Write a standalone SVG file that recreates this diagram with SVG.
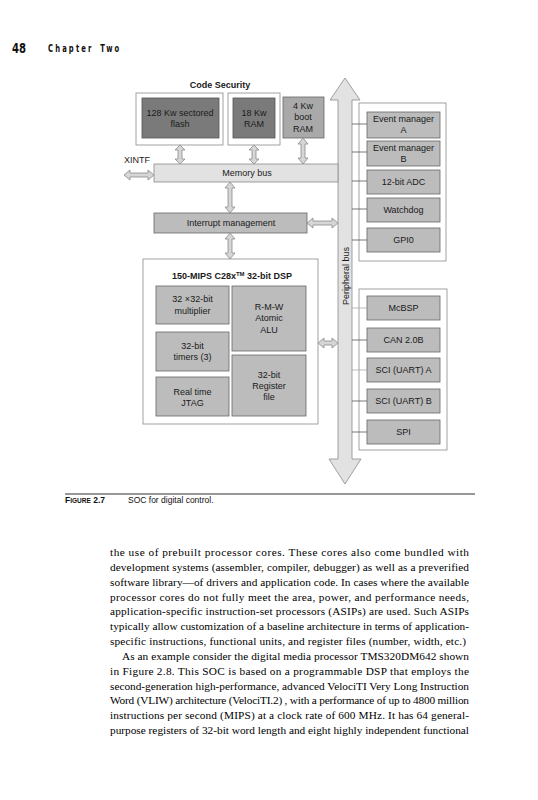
<svg xmlns="http://www.w3.org/2000/svg" width="538" height="800" viewBox="0 0 538 800">
<defs>
<style>
.t{font-family:"Liberation Sans",Arial,sans-serif;font-size:9px;fill:#1a1a1a;text-anchor:middle}
.b{font-weight:bold}
.dark{fill:#7a7a7a;stroke:#555;stroke-width:0.8}
.mid{fill:#a9a9a9;stroke:#666;stroke-width:0.8}
.box{fill:#bcbcbc;stroke:#666;stroke-width:0.8}
.frame{fill:#fff;stroke:#8a8a8a;stroke-width:0.8}
.bus{fill:#e2e2e2;stroke:#8a8a8a;stroke-width:0.8}
.arr{fill:#d6d6d6;stroke:#8a8a8a;stroke-width:0.8;stroke-linejoin:miter}
.ln{stroke:#555;stroke-width:0.8;fill:none}
.lnl{stroke:#aaa;stroke-width:0.8;fill:none}
.body{font-family:"Liberation Serif","Times New Roman",serif;font-size:11.3px;fill:#000}
</style>
</defs>
<rect width="538" height="800" fill="#fff"/>

<!-- page header -->
<g id="header">
<text x="12" y="53" font-family="DejaVu Sans Condensed,'Liberation Sans',sans-serif" font-weight="bold" font-size="14" textLength="14" lengthAdjust="spacingAndGlyphs" fill="#111">48</text>
<text transform="translate(48,52) scale(0.72,1)" x="0" y="0" font-family="DejaVu Sans Condensed,'Liberation Sans',sans-serif" font-weight="bold" font-size="10.5" letter-spacing="3" word-spacing="3" fill="#111">Chapter Two</text>
</g>

<!-- peripheral bus (big arrow) -->
<g id="peripheral-bus">
<polygon class="bus" points="345,78 360,100 352,100 352,459 361,459 345,484 329,459 338,459 338,100 330,100"/>
<text class="t" transform="translate(348.5,276) rotate(-90)" font-size="8.5">Peripheral bus</text>
</g>

<!-- memory bus -->
<g id="memory-bus">
<rect class="bus" x="154" y="164" width="184" height="18"/>
<text class="t" x="247" y="176">Memory bus</text>
</g>

<g id="code-security-label">
<text class="t b" x="220" y="88">Code Security</text>
</g>

<g id="flash">
<rect class="frame" x="136" y="93" width="87" height="52"/>
<rect class="dark" x="142" y="98" width="77" height="40"/>
<text class="t" x="180" y="116">128 Kw sectored</text>
<text class="t" x="180" y="127">flash</text>
</g>

<g id="ram18">
<rect class="frame" x="228" y="93" width="52" height="52"/>
<rect class="dark" x="233" y="98" width="42" height="40"/>
<text class="t" x="254" y="116">18 Kw</text>
<text class="t" x="254" y="127">RAM</text>
</g>

<g id="bootram">
<rect class="mid" x="283" y="97" width="41" height="41"/>
<text class="t" x="303" y="109">4 Kw</text>
<text class="t" x="303" y="120">boot</text>
<text class="t" x="303" y="132">RAM</text>
</g>

<g id="xintf">
<text class="t" x="124" y="163" style="text-anchor:start">XINTF</text>
</g>

<g id="interrupt">
<rect class="box" x="154" y="213" width="153" height="20"/>
<text class="t" x="231" y="226">Interrupt management</text>
</g>

<g id="dsp">
<rect class="frame" x="143" y="259" width="175" height="165"/>
<text class="t b" x="232" y="279">150-MIPS C28x<tspan font-size="6" dy="-3">TM</tspan><tspan dy="3"> 32-bit DSP</tspan></text>
</g>
<g id="multiplier">
<rect class="box" x="156" y="286" width="73" height="38"/>
<text class="t" x="192.5" y="302">32 ×32-bit</text>
<text class="t" x="192.5" y="314">multiplier</text>
</g>
<g id="timers">
<rect class="box" x="156" y="332" width="73" height="39"/>
<text class="t" x="192.5" y="349">32-bit</text>
<text class="t" x="192.5" y="360">timers (3)</text>
</g>
<g id="jtag">
<rect class="box" x="156" y="377" width="73" height="39"/>
<text class="t" x="192.5" y="395">Real time</text>
<text class="t" x="192.5" y="406">JTAG</text>
</g>
<g id="alu">
<rect class="box" x="232" y="286" width="74" height="65"/>
<text class="t" x="269" y="310">R-M-W</text>
<text class="t" x="269" y="321">Atomic</text>
<text class="t" x="269" y="333">ALU</text>
</g>
<g id="regfile">
<rect class="box" x="232" y="355" width="74" height="61"/>
<text class="t" x="269" y="378">32-bit</text>
<text class="t" x="269" y="389">Register</text>
<text class="t" x="269" y="400">file</text>
</g>

<!-- upper peripheral group -->
<g id="periph-upper">
<rect class="frame" x="359" y="103" width="87" height="158"/>
</g>
<g id="evm-a">
<rect class="box" x="367" y="112" width="73" height="26"/>
<text class="t" x="403.5" y="122">Event manager</text>
<text class="t" x="403.5" y="133">A</text>
</g>
<g id="evm-b">
<rect class="box" x="367" y="141" width="73" height="25"/>
<text class="t" x="403.5" y="151">Event manager</text>
<text class="t" x="403.5" y="162">B</text>
</g>
<g id="adc">
<rect class="box" x="367" y="170" width="73" height="24"/>
<text class="t" x="403.5" y="185">12-bit ADC</text>
</g>
<g id="watchdog">
<rect class="box" x="367" y="198" width="73" height="24"/>
<text class="t" x="403.5" y="213">Watchdog</text>
</g>
<g id="gpio">
<rect class="box" x="367" y="228" width="73" height="24"/>
<text class="t" x="403.5" y="243">GPI0</text>
</g>

<!-- lower peripheral group -->
<g id="periph-lower">
<rect class="frame" x="359" y="289" width="88" height="161"/>
</g>
<g id="mcbsp">
<rect class="box" x="367" y="296" width="73" height="24"/>
<text class="t" x="403.5" y="311">McBSP</text>
</g>
<g id="can">
<rect class="box" x="367" y="328" width="73" height="24"/>
<text class="t" x="403.5" y="343">CAN 2.0B</text>
</g>
<g id="scia">
<rect class="box" x="367" y="358" width="73" height="24"/>
<text class="t" x="403.5" y="373">SCI (UART) A</text>
</g>
<g id="scib">
<rect class="box" x="367" y="389" width="73" height="24"/>
<text class="t" x="403.5" y="404">SCI (UART) B</text>
</g>
<g id="spi">
<rect class="box" x="367" y="420" width="73" height="24"/>
<text class="t" x="403.5" y="435">SPI</text>
</g>

<!-- connectors -->
<g id="connectors">
<polygon class="arr" points="180,145 185,150 182,150 182,159 185,159 180,164 175,159 178,159 178,150 175,150"/>
<polygon class="arr" points="254,145 259,150 256,150 256,159 259,159 254,164 249,159 252,159 252,150 249,150"/>
<polygon class="arr" points="303,138 308,144 305,144 305,158 308,158 303,164 298,158 301,158 301,144 298,144"/>
<polygon class="arr" points="124,175 130,170 130,173 148,173 148,170 154,175 148,180 148,177 130,177 130,180"/>
<polygon class="arr" points="230,182 235,188 232,188 232,207 235,207 230,213 225,207 228,207 228,188 225,188"/>
<polygon class="arr" points="307,223 313,218 313,221 332,221 332,218 338,223 332,228 332,225 313,225 313,228"/>
<polygon class="arr" points="230,233 235,239 232,239 232,253 235,253 230,259 225,253 228,253 228,239 225,239"/>
<polygon class="arr" points="318,343 324,338 324,341 332,341 332,338 338,343 332,348 332,345 324,345 324,348"/>
<line class="ln" x1="352" y1="124" x2="367" y2="124"/>
<line class="ln" x1="352" y1="152" x2="367" y2="152"/>
<line class="ln" x1="352" y1="181" x2="367" y2="181"/>
<line class="ln" x1="352" y1="209" x2="367" y2="209"/>
<line class="ln" x1="352" y1="240" x2="367" y2="240"/>
<line class="lnl" x1="352" y1="308" x2="367" y2="308"/>
<line class="ln" x1="352" y1="340" x2="367" y2="340"/>
<line class="lnl" x1="352" y1="370" x2="367" y2="370"/>
<line class="ln" x1="352" y1="401" x2="367" y2="401"/>
<line class="ln" x1="352" y1="432" x2="367" y2="432"/>
</g>

<!-- caption -->
<g id="caption">
<line x1="65" y1="494" x2="475" y2="494" stroke="#333" stroke-width="1.2"/>
<text x="65" y="503" font-family="'Liberation Sans',Arial,sans-serif" font-weight="bold" font-size="8.5" fill="#111">F<tspan font-size="6.5">IGURE</tspan> 2.7</text>
<text x="128" y="503" font-family="'Liberation Sans',Arial,sans-serif" font-size="8.5" fill="#111">SOC for digital control.</text>
</g>

<!-- body text -->
<g id="body-text">
<text class="body" x="110" y="556" textLength="359" lengthAdjust="spacing">the use of prebuilt processor cores. These cores also come bundled with</text>
<text class="body" x="110" y="570.8" textLength="359" lengthAdjust="spacing">development systems (assembler, compiler, debugger) as well as a preverified</text>
<text class="body" x="110" y="585.7" textLength="359" lengthAdjust="spacing">software library—of drivers and application code. In cases where the available</text>
<text class="body" x="110" y="600.5" textLength="359" lengthAdjust="spacing">processor cores do not fully meet the area, power, and performance needs,</text>
<text class="body" x="110" y="615.3" textLength="359" lengthAdjust="spacing">application-specific instruction-set processors (ASIPs) are used. Such ASIPs</text>
<text class="body" x="110" y="630.2" textLength="359" lengthAdjust="spacing">typically allow customization of a baseline architecture in terms of application-</text>
<text class="body" x="110" y="645" textLength="356" lengthAdjust="spacing">specific instructions, functional units, and register files (number, width, etc.)</text>
<text class="body" x="122" y="659.8" textLength="347" lengthAdjust="spacing">As an example consider the digital media processor TMS320DM642 shown</text>
<text class="body" x="110" y="674.7" textLength="359" lengthAdjust="spacing">in Figure 2.8. This SOC is based on a programmable DSP that employs the</text>
<text class="body" x="110" y="689.5" textLength="359" lengthAdjust="spacing">second-generation high-performance, advanced VelociTI Very Long Instruction</text>
<text class="body" x="110" y="704.3" textLength="359" lengthAdjust="spacing">Word (VLIW) architecture (VelociTI.2) , with a performance of up to 4800 million</text>
<text class="body" x="110" y="719.2" textLength="359" lengthAdjust="spacing">instructions per second (MIPS) at a clock rate of 600 MHz. It has 64 general-</text>
<text class="body" x="110" y="734" textLength="359" lengthAdjust="spacing">purpose registers of 32-bit word length and eight highly independent functional</text>
</g>
</svg>
